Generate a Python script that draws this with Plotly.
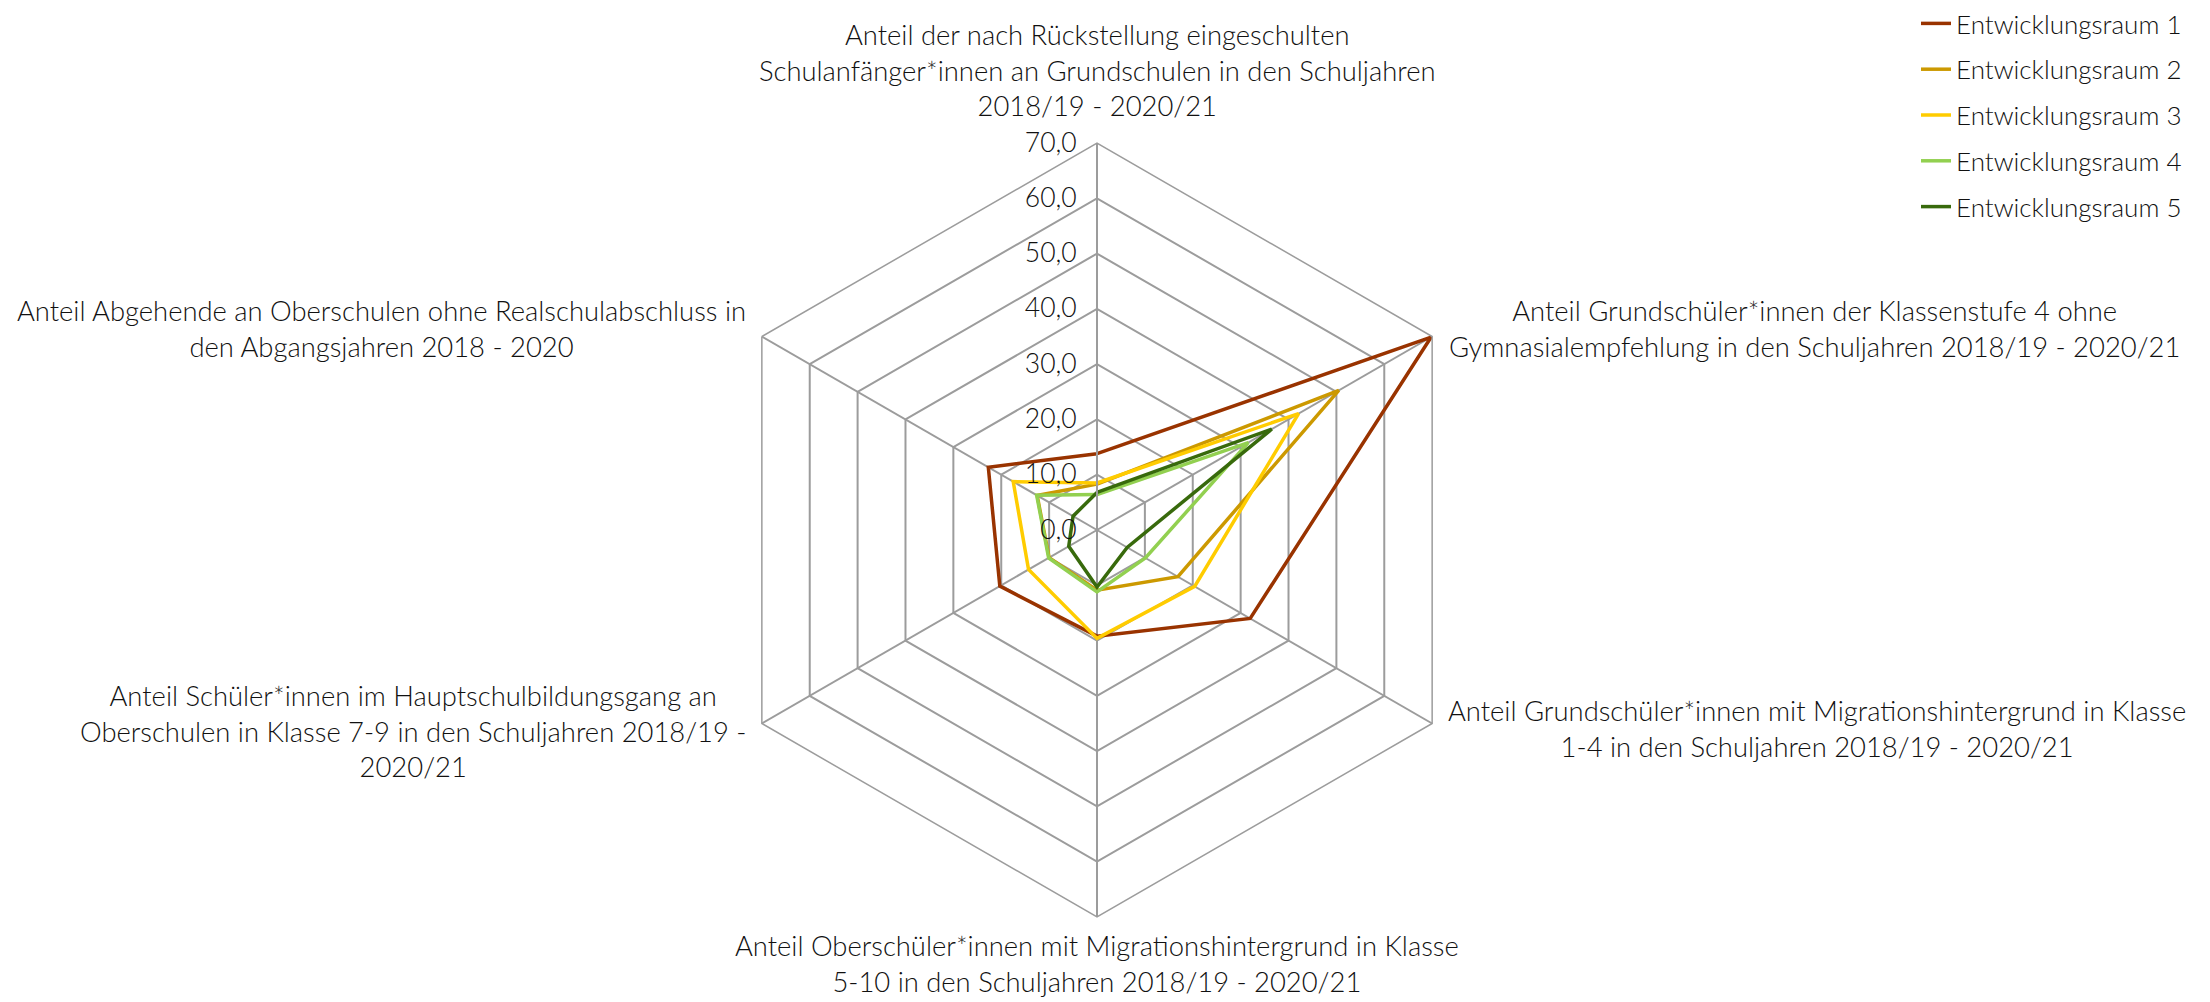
import plotly.graph_objects as go

categories = [
    "Anteil der nach Rückstellung eingeschulten<br>Schulanfänger*innen an Grundschulen in den Schuljahren<br>2018/19 - 2020/21",
    "Anteil Grundschüler*innen der Klassenstufe 4 ohne<br>Gymnasialempfehlung in den Schuljahren 2018/19 - 2020/21",
    "Anteil Grundschüler*innen mit Migrationshintergrund in Klasse<br>1-4 in den Schuljahren 2018/19 - 2020/21",
    "Anteil Oberschüler*innen mit Migrationshintergrund in Klasse<br>5-10 in den Schuljahren 2018/19 - 2020/21",
    "Anteil Schüler*innen im Hauptschulbildungsgang an<br>Oberschulen in Klasse 7-9 in den Schuljahren 2018/19 -<br>2020/21",
    "Anteil Abgehende an Oberschulen ohne Realschulabschluss in<br>den Abgangsjahren 2018 - 2020",
]

series_names = ["Entwicklungsraum 1", "Entwicklungsraum 2", "Entwicklungsraum 3",
                "Entwicklungsraum 4", "Entwicklungsraum 5"]
er1 = [13.8, 69.8, 32.0, 19.2, 20.3, 22.7]
er2 = [8.3, 50.5, 16.9, 10.9, 10.0, 12.5]
er3 = [8.5, 42.1, 20.4, 19.6, 14.3, 17.5]
er4 = [6.4, 31.6, 10.1, 11.2, 10.1, 12.6]
er5 = [6.8, 36.5, 6.3, 10.3, 5.9, 5.0]
series_values = [er1, er2, er3, er4, er5]
colors = ["#993300", "#CC9900", "#FFCC00", "#92D050", "#386A0C"]

FONT = "Lato"
TXT = "#111111"
GRID = "#9c9c9c"

fig = go.Figure()
for name, vals, col in zip(series_names, series_values, colors):
    fig.add_trace(go.Scatterpolar(
        r=vals + vals[:1],
        theta=categories + categories[:1],
        mode="lines",
        name=name,
        legendgroup=name,
        line=dict(color=col, width=3.5),
    ))

W, H = 2210, 1002
cx, cy, R = 1097, 530, 387

def px(x):
    return x / W

def py(y):
    return 1 - y / H

# category label placements (layout only)
label_pos = [
    dict(x=px(1097), y=py(70), xanchor="center", yanchor="middle"),
    dict(x=px(1447), y=py(328), xanchor="left", yanchor="middle"),
    dict(x=px(1446), y=py(728), xanchor="left", yanchor="middle"),
    dict(x=px(1097), y=py(963), xanchor="center", yanchor="middle"),
    dict(x=px(748), y=py(731), xanchor="right", yanchor="middle"),
    dict(x=px(748), y=py(328), xanchor="right", yanchor="middle"),
]
annotations = []
for cat, pos in zip(categories, label_pos):
    annotations.append(dict(text=cat, xref="paper", yref="paper", showarrow=False,
                            align="center",
                            font=dict(family=FONT, size=27.4, color=TXT, weight=300), **pos))

fig.update_layout(
    width=W, height=H,
    margin=dict(l=0, r=0, t=0, b=0),
    paper_bgcolor="white",
    separators=",.",
    font=dict(family=FONT, size=26, color=TXT, weight=300),
    polar=dict(
        domain=dict(x=[px(cx - R), px(cx + R)], y=[1 - (cy + R) / H, 1 - (cy - R) / H]),
        gridshape="linear",
        bgcolor="white",
        radialaxis=dict(range=[0, 70], dtick=10, tickformat=".1f", angle=90, tickangle=90,
                        side="counterclockwise", showline=True, linecolor=GRID, linewidth=2,
                        gridcolor=GRID, gridwidth=1.5, ticks="outside", ticklen=10,
                        tickcolor="rgba(0,0,0,0)",
                        tickfont=dict(family=FONT, size=26.5, color=TXT, weight=300)),
        angularaxis=dict(rotation=90, direction="clockwise", showticklabels=False, ticks="",
                         showline=True, linecolor=GRID, linewidth=1.5,
                         gridcolor=GRID, gridwidth=2),
    ),
    legend=dict(x=px(1916), y=1, xanchor="left", yanchor="top",
                font=dict(family=FONT, size=26, color=TXT, weight=300),
                tracegroupgap=9, bgcolor="rgba(0,0,0,0)"),
    annotations=annotations,
)

fig.write_html("out.html", config={"displayModeBar": False},
               post_script="document.body.style.margin='0px';")
